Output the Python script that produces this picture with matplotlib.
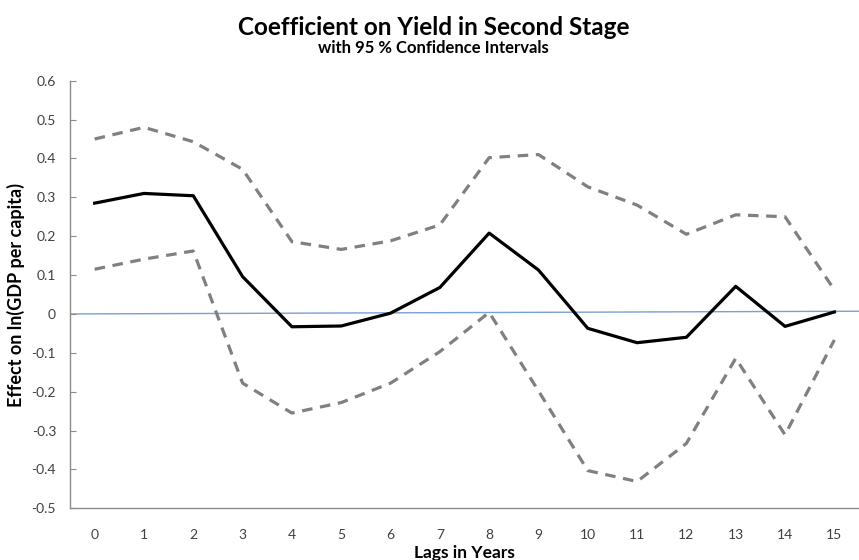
import matplotlib
matplotlib.use("Agg")
import matplotlib.pyplot as plt

plt.rcParams['font.family'] = ['Lato', 'DejaVu Sans']

lags = list(range(16))
coef = [0.285, 0.310, 0.304, 0.096, -0.033, -0.031, 0.002, 0.068,
        0.208, 0.113, -0.037, -0.074, -0.060, 0.071, -0.032, 0.005]
ci_upper = [0.450, 0.480, 0.443, 0.372, 0.186, 0.166, 0.188, 0.229,
            0.402, 0.410, 0.327, 0.280, 0.205, 0.255, 0.250, 0.062]
ci_lower = [0.115, 0.141, 0.162, -0.178, -0.255, -0.228, -0.178, -0.097,
            0.004, -0.198, -0.403, -0.431, -0.333, -0.114, -0.311, -0.067]
# reference line near zero (runs across the whole plot area)
zero_x = [-0.5, 15.5]
zero_y = [0.0, 0.007]

fig = plt.figure(figsize=(8.59, 5.6), dpi=100)
ax = fig.add_axes([0.0815, 0.0923, 0.9185, 0.7636])

ax.plot(zero_x, zero_y, color='#7a9fd4', lw=1.0, zorder=1)
ax.plot(lags, ci_upper, color='#808080', lw=2.3, dashes=(3.3, 2.4), zorder=2)
ax.plot(lags, ci_lower, color='#808080', lw=2.3, dashes=(3.3, 2.4), zorder=2)
ax.plot(lags, coef, color='black', lw=2.3, zorder=3)

ax.set_xlim(-0.5, 15.5)
ax.set_ylim(-0.5, 0.6)
ax.set_xticks(lags)
ax.set_yticks([-0.5, -0.4, -0.3, -0.2, -0.1, 0, 0.1, 0.2, 0.3, 0.4, 0.5, 0.6])
ax.set_yticklabels(['-0.5', '-0.4', '-0.3', '-0.2', '-0.1', '0', '0.1', '0.2', '0.3', '0.4', '0.5', '0.6'])

for side in ['top', 'right']:
    ax.spines[side].set_visible(False)
for side in ['left', 'bottom']:
    ax.spines[side].set_color('#8c8c8c')
    ax.spines[side].set_linewidth(1.0)

ax.tick_params(axis='y', direction='in', length=4, color='#8c8c8c', pad=10,
               labelsize=10, labelcolor='#404040')
ax.tick_params(axis='x', length=0, pad=15, labelsize=10, labelcolor='#404040')

ax.set_xlabel('Lags in Years', fontsize=12.5, fontweight='bold', labelpad=3)
ax.set_ylabel('Effect on ln(GDP per capita)', fontsize=13, fontweight='bold', labelpad=5)

fig.text(0.505, 0.951, 'Coefficient on Yield in Second Stage', ha='center', va='center',
         fontsize=17.5, fontweight='bold')
fig.text(0.505, 0.914, 'with 95 % Confidence Intervals', ha='center', va='center',
         fontsize=12, fontweight='bold')

fig.savefig('out.png', dpi=100)
